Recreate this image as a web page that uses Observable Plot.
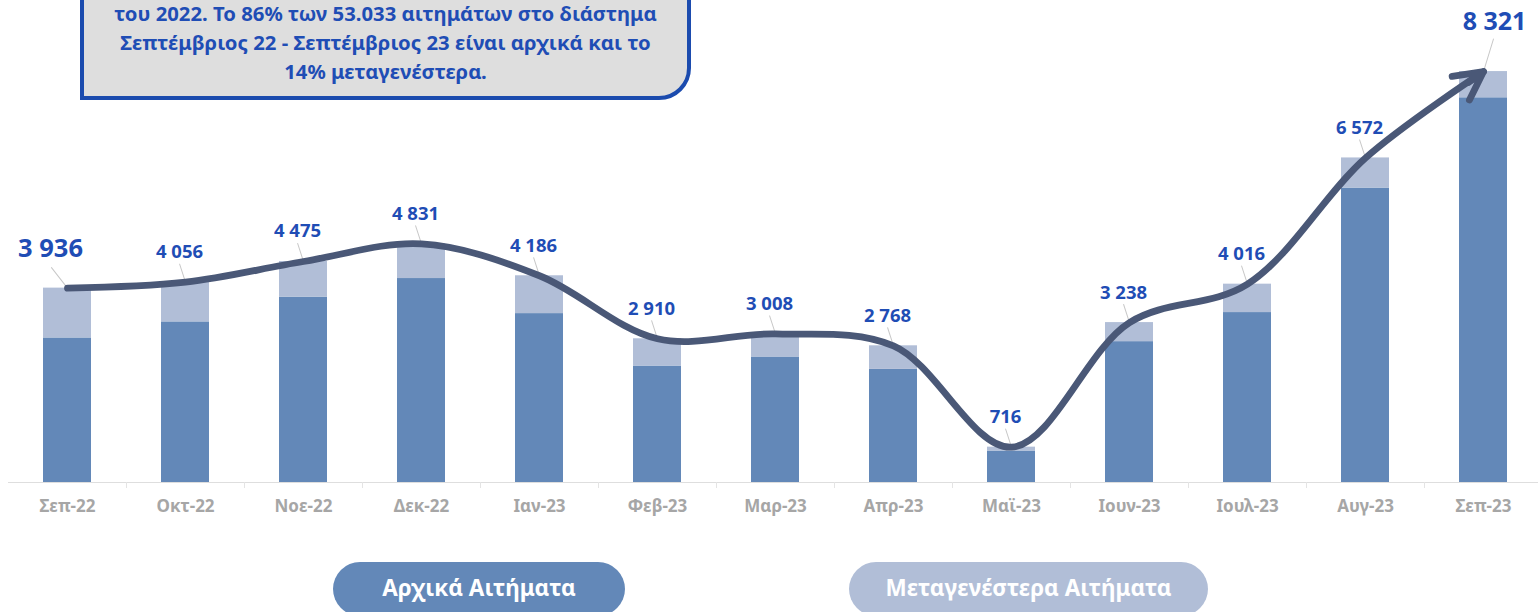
<!DOCTYPE html>
<html>
<head>
<meta charset="utf-8">
<script src="https://cdn.jsdelivr.net/npm/d3@7"></script>
<script src="https://cdn.jsdelivr.net/npm/@observablehq/plot@0.6"></script>
<style>
  html, body { margin: 0; padding: 0; background: #fff; }
  body { width: 1538px; height: 612px; overflow: hidden; position: relative; font-family: "Noto Sans", "Open Sans", sans-serif; }
  #note {
    position: absolute; left: 80px; top: -24px; width: 611px; height: 124px;
    box-sizing: border-box; border: 4.5px solid #1b4bae; border-radius: 0 0 32px 0;
    background: #dedede; color: #1f4db5; font-weight: 700; font-size: 20.3px;
    line-height: 29px; text-align: center; padding-top: 19px; z-index: 2; white-space: nowrap;
  }
  #legend { position: relative; height: 72px; }
  .pill {
    position: absolute; top: 22px; height: 54px; border-radius: 27px;
    color: #fff; font-weight: 700; font-size: 22.5px; line-height: 52px; text-align: center;
  }
</style>
</head>
<body>
<div id="note">του 2022. Το 86% των 53.033 αιτημάτων στο διάστημα<br>Σεπτέμβριος 22 - Σεπτέμβριος 23 είναι αρχικά και το<br>14% μεταγενέστερα.</div>
<div id="chart"></div>
<div id="legend"></div>
<script>
const months = ["Σεπ-22", "Οκτ-22", "Νοε-22", "Δεκ-22", "Ιαν-23", "Φεβ-23", "Μαρ-23", "Απρ-23", "Μαϊ-23", "Ιουν-23", "Ιουλ-23", "Αυγ-23", "Σεπ-23"];
const initialReq = [2927, 3252, 3754, 4130, 3420, 2358, 2541, 2290, 637, 2852, 3441, 5962, 7790];
const laterReq   = [1009,  804,  721,  701,  766,  552,  467,  478,  79,  386,  575,  610,  531];
const totals     = [3936, 4056, 4475, 4831, 4186, 2910, 3008, 2768, 716, 3238, 4016, 6572, 8321];
const seriesNames = ["Αρχικά Αιτήματα", "Μεταγενέστερα Αιτήματα"];
const seriesColors = ["#6388b8", "#b1bed7"];

const rows = [];
months.forEach((m, i) => {
  rows.push({month: m, type: seriesNames[0], value: initialReq[i]});
  rows.push({month: m, type: seriesNames[1], value: laterReq[i]});
});
const pts = months.map((m, i) => ({month: m, total: totals[i], i}));
const fmt = v => d3.format(",")(v).replace(/,/g, " ");
const last = pts.length - 1;
const mid = pts.filter(d => d.i > 0 && d.i < last);
const first = pts.filter(d => d.i === 0);
const lastP = pts.filter(d => d.i === last);

const W = 1538, H = 540;
const xRange = [8, 1542];
const step = (xRange[1] - xRange[0]) / months.length;
const lineShape = {draw(ctx, l) { ctx.moveTo(0, 0); ctx.lineTo(0, -l); }};
const blue = "#1f4db5";
const lineColor = "#4a5877";

const chart = Plot.plot({
  width: W, height: H,
  marginLeft: 8, marginRight: 0, marginTop: 0, marginBottom: 58,
  style: {fontFamily: "'Noto Sans', 'Open Sans', sans-serif", overflow: "visible"},
  x: {domain: months, range: xRange, paddingInner: 0.59, paddingOuter: 0.295, label: null},
  y: {domain: [0, 9760], axis: null},
  color: {domain: seriesNames, range: seriesColors},
  marks: [
    Plot.ruleY([0], {stroke: "#dedede", strokeWidth: 1}),
    Plot.axisX({tickSize: 6, tickFormat: () => "", dx: step / 2, stroke: "#e4e4e4", label: null}),
    Plot.axisX({tickSize: 0, tickPadding: 17, fontSize: 17, fontWeight: 700, fill: "#a6a6a6", label: null}),
    Plot.barY(rows, {x: "month", y: "value", fill: "type", order: seriesNames}),
    Plot.vector(mid, {x: "month", y: "total", length: 19, rotate: -18, anchor: "start", shape: lineShape, stroke: "#c8c8c8", strokeWidth: 1}),
    Plot.vector(first, {x: "month", y: "total", length: 26, rotate: -38, anchor: "start", shape: lineShape, stroke: "#c8c8c8", strokeWidth: 1}),
    Plot.vector(lastP, {x: "month", y: "total", length: 34, rotate: 17, anchor: "start", shape: lineShape, stroke: "#c8c8c8", strokeWidth: 1}),
    Plot.line(pts, {x: "month", y: "total", curve: "catmull-rom", stroke: lineColor, strokeWidth: 6.8, strokeLinecap: "round", strokeLinejoin: "round"}),
    Plot.arrow([{a: months[last - 1], b: months[last], ya: totals[last - 1], yb: totals[last]}],
      {x1: "a", y1: "ya", x2: "b", y2: "yb", insetStart: 128, headLength: 7, headAngle: 55, stroke: lineColor, strokeWidth: 6.8, strokeLinecap: "round", strokeLinejoin: "round"}),
    Plot.text(mid, {x: "month", y: "total", text: d => fmt(d.total), dx: -6, dy: -30, fontSize: 18.5, fontWeight: 700, fill: blue}),
    Plot.text(first, {x: "month", y: "total", text: d => fmt(d.total), dx: -17, dy: -39, fontSize: 25.5, fontWeight: 700, fill: blue}),
    Plot.text(lastP, {x: "month", y: "total", text: d => fmt(d.total), dx: 11, dy: -50, fontSize: 25, fontWeight: 700, fill: blue})
  ]
});
document.getElementById("chart").appendChild(chart);

const legend = document.getElementById("legend");
const pillPos = [[333, 292], [849, 359]];
seriesNames.forEach((n, i) => {
  const p = document.createElement("div");
  p.className = "pill";
  p.style.left = pillPos[i][0] + "px";
  p.style.width = pillPos[i][1] + "px";
  p.style.background = seriesColors[i];
  p.textContent = n;
  legend.appendChild(p);
});
</script>
</body>
</html>
